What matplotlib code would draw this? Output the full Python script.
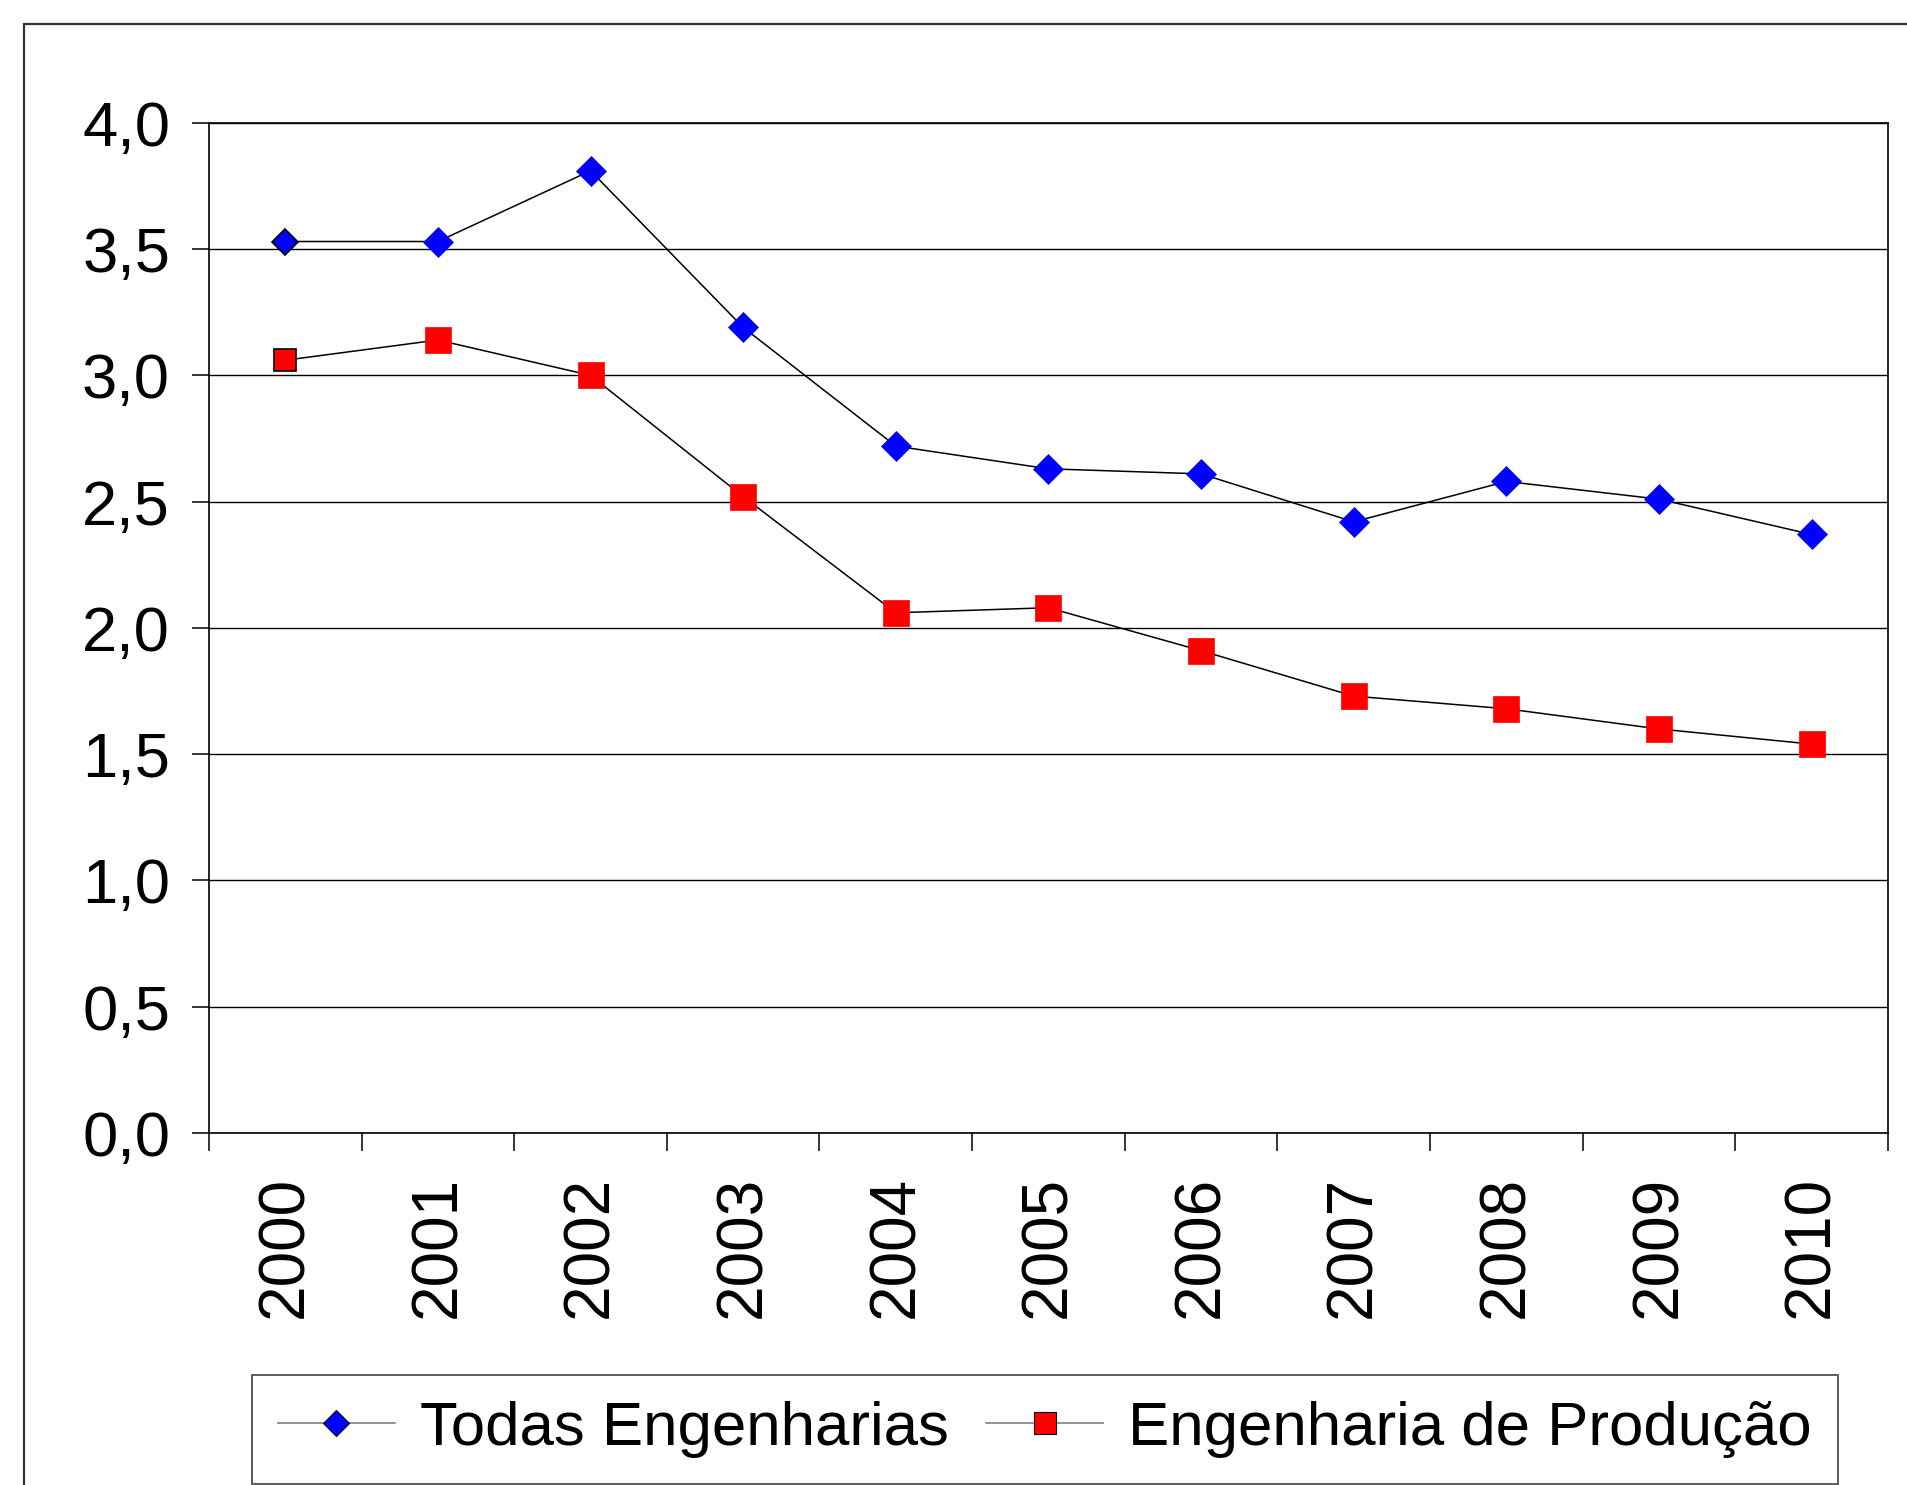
import matplotlib.pyplot as plt
from matplotlib.lines import Line2D
from matplotlib.patches import Rectangle

plt.rcParams['font.family'] = ['Liberation Sans', 'DejaVu Sans']

# data
anos = ['2000', '2001', '2002', '2003', '2004', '2005', '2006', '2007', '2008', '2009', '2010']
todas_eng = [3.53, 3.53, 3.81, 3.19, 2.72, 2.63, 2.61, 2.42, 2.58, 2.51, 2.37]
eng_prod = [3.06, 3.14, 3.00, 2.52, 2.06, 2.08, 1.91, 1.73, 1.68, 1.60, 1.54]
y_ticks = [0.0, 0.5, 1.0, 1.5, 2.0, 2.5, 3.0, 3.5, 4.0]
y_labels = ['0,0', '0,5', '1,0', '1,5', '2,0', '2,5', '3,0', '3,5', '4,0']
nomes = ['Todas Engenharias', 'Engenharia de Produção']

fig = plt.figure(figsize=(19.08, 14.85), dpi=100)
ax = fig.add_axes([0.1095, 0.237, 0.88, 0.6803])

# outer frame (runs off the right and bottom of the picture)
fig.patches.append(Rectangle((0.0126, -0.02), 1.2, 0.9838 + 0.02, transform=fig.transFigure,
                             fill=False, edgecolor='#333333', linewidth=1.6, zorder=0))

x = list(range(len(anos)))

ax.plot(x, todas_eng, color='black', linewidth=1.1, zorder=3)
ax.plot(x[1:], todas_eng[1:], linestyle='none', marker='D', markersize=15,
        markerfacecolor='#0000ff', markeredgecolor='#0000ff', markeredgewidth=0.5, zorder=4)
ax.plot(x[:1], todas_eng[:1], linestyle='none', marker='D', markersize=13,
        markerfacecolor='#0000ff', markeredgecolor='black', markeredgewidth=1.2, zorder=4)

ax.plot(x, eng_prod, color='black', linewidth=1.1, zorder=3)
ax.plot(x[1:], eng_prod[1:], linestyle='none', marker='s', markersize=18.5,
        markerfacecolor='#ff0000', markeredgecolor='#ff0000', markeredgewidth=0.5, zorder=4)
ax.plot(x[:1], eng_prod[:1], linestyle='none', marker='s', markersize=15.5,
        markerfacecolor='#ff0000', markeredgecolor='black', markeredgewidth=1.2, zorder=4)

ax.set_xlim(-0.5, len(anos) - 0.5)
ax.set_ylim(0, 4)

# tick marks at category borders, labels at the centres
ax.set_xticks([i - 0.5 for i in range(len(anos) + 1)])
ax.set_xticklabels([])
ax.set_xticks(x, minor=True)
ax.set_xticklabels(anos, minor=True, rotation=90, fontsize=46)
ax.tick_params(axis='x', which='major', direction='out', length=13, width=1.1, color='black')
ax.tick_params(axis='x', which='minor', length=0, pad=31)

ax.set_yticks(y_ticks)
ax.set_yticklabels(y_labels, fontsize=45.5)
ax.tick_params(axis='y', direction='out', length=12, width=1.1, pad=16)

ax.yaxis.grid(True, color='black', linewidth=1.0)
ax.set_axisbelow(True)
for s in ax.spines.values():
    s.set_color('black')
    s.set_linewidth(1.2)

handles = [
    Line2D([], [], color='#808080', linewidth=1.2, marker='D', markersize=13,
           markerfacecolor='#0000ff', markeredgecolor='black', markeredgewidth=0.8),
    Line2D([], [], color='#808080', linewidth=1.2, marker='s', markersize=15.5,
           markerfacecolor='#ff0000', markeredgecolor='black', markeredgewidth=0.8),
]
leg = fig.legend(handles, nomes, loc='center', bbox_to_anchor=(0.5475, 0.0375), ncol=2,
                 fontsize=44.5, frameon=True, fancybox=False, handlelength=1.9,
                 handletextpad=0.4, columnspacing=0.6, borderpad=0.42, borderaxespad=0)
leg.get_frame().set_edgecolor('#333333')
leg.get_frame().set_linewidth(1.4)

fig.savefig('out.png', dpi=100)
